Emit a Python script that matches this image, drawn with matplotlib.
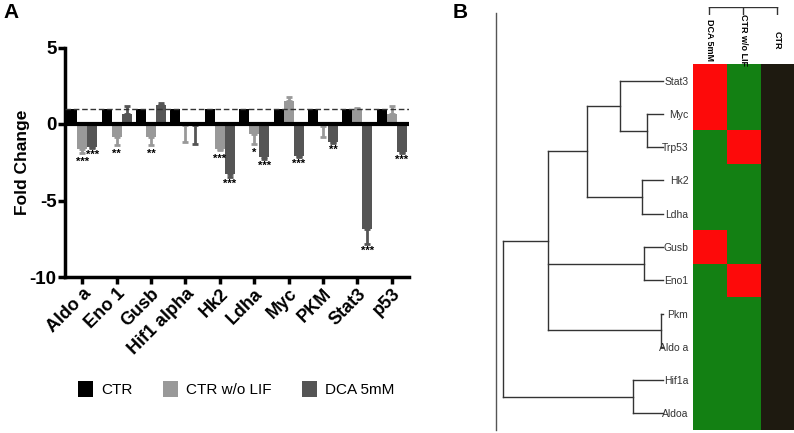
import matplotlib
matplotlib.use("Agg")
import matplotlib.pyplot as plt
import numpy as np
from matplotlib.colors import ListedColormap
from matplotlib.patches import Patch
from matplotlib.lines import Line2D

plt.rcParams['font.family'] = ['Liberation Sans', 'DejaVu Sans']
plt.rcParams['axes.unicode_minus'] = False

# ---- panel A data ----
genes = ['Aldo a', 'Eno 1', 'Gusb', 'Hif1 alpha', 'Hk2', 'Ldha', 'Myc', 'PKM', 'Stat3', 'p53']
ctr = [1, 1, 1, 1, 1, 1, 1, 1, 1, 1]
wo_lif = [-1.62, -0.86, -0.86, -0.05, -1.62, -0.64, 1.53, -0.10, 1.00, 0.67]
wo_lif_err = [0.28, 0.54, 0.50, 1.14, 0.10, 0.66, 0.22, 0.76, 0.05, 0.53]
dca = [-1.50, 0.67, 1.27, -0.05, -3.25, -2.17, -2.06, -1.19, -6.85, -1.84]
dca_err = [0.10, 0.53, 0.08, 1.25, 0.22, 0.10, 0.11, 0.05, 0.98, 0.08]
wo_lif_sig = ['***', '**', '**', '', '***', '*', '', '', '', '']
dca_sig = ['***', '', '', '', '***', '***', '***', '**', '***', '***']
series_names = ['CTR', 'CTR w/o LIF', 'DCA 5mM']
series_colors = ['#000000', '#999999', '#555555']

# ---- panel B data ----
row_genes = ['Stat3', 'Myc', 'Trp53', 'Hk2', 'Ldha', 'Gusb', 'Eno1', 'Pkm', 'Aldo a', 'Hif1a', 'Aldoa']
hm_cols = ['DCA 5mM', 'CTR w/o LIF', 'CTR']
# 0 = reference, 1 = down, 2 = up
hm_dca = [2, 2, 1, 1, 1, 2, 1, 1, 1, 1, 1]
hm_wolif = [1, 1, 2, 1, 1, 1, 2, 1, 1, 1, 1]
hm_ctr = [0, 0, 0, 0, 0, 0, 0, 0, 0, 0, 0]
hm_colors = ['#1e1a10', '#138013', '#fd0a0a']
# row clustering: (children, height); ints refer to earlier merges
row_merges = [
    (['Myc', 'Trp53'], 0.10),
    (['Stat3', 0], 0.27),
    (['Hk2', 'Ldha'], 0.13),
    ([1, 2], 0.475),
    (['Gusb', 'Eno1'], 0.12),
    (['Pkm', 'Aldo a'], 0.015),
    ([3, 4, 5], 0.72),
    (['Hif1a', 'Aldoa'], 0.19),
    ([6, 7], 1.0),
]

W, H = 794, 433
fig = plt.figure(figsize=(W / 100, H / 100), dpi=100)


def px(x0, y0, x1, y1):
    return [x0 / W, 1 - y1 / H, (x1 - x0) / W, (y1 - y0) / H]


# ================= Panel A =================
ax = fig.add_axes(px(65, 47.5, 409, 277))
x = np.arange(len(genes))
bw = 0.29
for off, vals, errs, c in [(-bw, ctr, None, series_colors[0]),
                           (0, wo_lif, wo_lif_err, series_colors[1]),
                           (bw, dca, dca_err, series_colors[2])]:
    ax.bar(x + off, vals, width=bw, color=c, zorder=2)
    if errs is not None:
        v = np.array(vals)
        e = np.array(errs)
        lo = np.where(v < 0, e, 0)
        hi = np.where(v >= 0, e, 0)
        ax.errorbar(x + off, v, yerr=[lo, hi], fmt='none', ecolor=c,
                    elinewidth=2, capsize=2.5, capthick=2, zorder=1)

for i in range(len(genes)):
    if wo_lif_sig[i]:
        ax.text(x[i], wo_lif[i] - wo_lif_err[i] - 0.25, wo_lif_sig[i], ha='center',
                va='top', fontsize=8, fontweight='bold')
    if dca_sig[i]:
        ax.text(x[i] + bw, dca[i] - dca_err[i] - 0.12, dca_sig[i], ha='center',
                va='top', fontsize=8, fontweight='bold')

ax.axhline(0, color='black', lw=3, zorder=3)
ax.axhline(1, color='#333333', lw=1, ls=(0, (4, 2)), zorder=4)
ax.set_xlim(-0.5, len(genes) - 0.5)
ax.set_ylim(-10, 5)
ax.set_yticks([-10, -5, 0, 5])
ax.set_xticks(x)
ax.set_xticklabels(genes, rotation=45, ha='right', rotation_mode='anchor',
                   fontsize=13, fontweight='bold')
for lbl in ax.get_yticklabels():
    lbl.set_fontsize(13.5)
    lbl.set_fontweight('bold')
ax.set_ylabel('Fold Change', fontsize=12.5, fontweight='bold', labelpad=0)
for s in ['top', 'right']:
    ax.spines[s].set_visible(False)
for s in ['left', 'bottom']:
    ax.spines[s].set_linewidth(2.5)
ax.tick_params(width=2.5, length=5, pad=1)

handles = [Patch(facecolor=c, edgecolor='none', label=n) for n, c in zip(series_names, series_colors)]
fig.legend(handles=handles, loc='center', bbox_to_anchor=(236 / W, 1 - 389 / H), ncol=3,
           frameon=False, fontsize=11, handlelength=1.0, handleheight=1.2,
           handletextpad=0.5, columnspacing=2.0)

fig.text(3 / W, 1 - 12 / H, 'A', fontsize=15, fontweight='bold', va='center')
fig.text(453 / W, 1 - 12 / H, 'B', fontsize=15, fontweight='bold', va='center')

# ================= Panel B =================
hm_top, hm_bot = 64, 430
axh = fig.add_axes(px(692.5, hm_top, W, hm_bot))
mat = np.array([hm_dca, hm_wolif, hm_ctr]).T
axh.imshow(mat, cmap=ListedColormap(hm_colors), vmin=-0.5, vmax=2.5,
           aspect='auto', interpolation='nearest')
axh.set_yticks(np.arange(len(row_genes)))
axh.set_yticklabels(row_genes, fontsize=7.5, color='#333333')
axh.set_xticks([])
axh.tick_params(axis='y', length=0, pad=3)
for s in axh.spines.values():
    s.set_visible(False)
axh.set_ylim(len(row_genes) - 0.5, -0.5)
for j, name in enumerate(hm_cols):
    axh.text(j, -1.22, name, rotation=270, ha='center', va='center',
             fontsize=6.5, fontweight='bold', clip_on=False)

# column dendrogram
axc = fig.add_axes(px(692.5, 7, W, 15))
axc.set_xlim(-0.5, len(hm_cols) - 0.5)
axc.set_ylim(0, 1)
axc.plot([0, len(hm_cols) - 1], [1, 1], color='#333333', lw=1)
for j in range(len(hm_cols)):
    axc.plot([j, j], [1, 0], color='#333333', lw=1)
axc.axis('off')

# row dendrogram
axd = fig.add_axes(px(503, hm_top, 663, hm_bot))
axd.set_xlim(1.0, 0.0)
axd.set_ylim(len(row_genes) - 0.5, -0.5)
axd.axis('off')
pos = {g: (i, 0.0) for i, g in enumerate(row_genes)}
nodes = []
lc = '#333333'
for children, h in row_merges:
    ys = []
    for ch in children:
        cy, cd = pos[ch] if isinstance(ch, str) else nodes[ch]
        axd.plot([cd, h], [cy, cy], color=lc, lw=1, clip_on=False)
        ys.append(cy)
    axd.plot([h, h], [min(ys), max(ys)], color=lc, lw=1, clip_on=False)
    nodes.append(((min(ys) + max(ys)) / 2, h))

fig.add_artist(Line2D([496 / W, 496 / W], [1 - 13 / H, 1 - 430 / H], color='#555555', lw=1))

fig.savefig('out.png', dpi=100)
